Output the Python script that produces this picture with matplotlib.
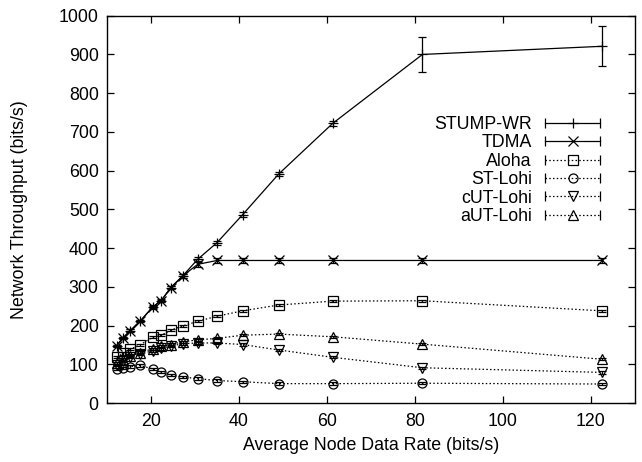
import matplotlib
matplotlib.use('agg')
import matplotlib.pyplot as plt
from matplotlib.lines import Line2D
from matplotlib.legend_handler import HandlerLine2D, HandlerTuple

plt.rcParams['font.family'] = ['Liberation Sans', 'DejaVu Sans']

# средняя скорость данных узла (bits/s)
rate = [12.2, 13.6, 15.3, 17.5, 20.4, 22.3, 24.5, 27.2, 30.6, 35.0, 40.8, 49.0, 61.3, 81.7, 122.5]

stump = [148, 168, 187, 211, 248, 264, 298, 328, 371, 414, 486, 591, 722, 900, 921]
stump_err = [3, 3, 3, 3, 4, 4, 4, 5, 5, 5, 6, 6, 7, 45, 52]
tdma = [148, 168, 187, 211, 248, 264, 298, 328, 358, 368, 368, 368, 368, 368, 368]
tdma_err = [3, 3, 3, 3, 3, 3, 3, 4, 6, 7, 7, 7, 7, 7, 7]
aloha = [118, 128, 139, 150, 170, 175, 188, 199, 211, 224, 238, 253, 263, 264, 238]
st_lohi = [88, 91, 94, 97, 88, 80, 72, 67, 63, 58, 55, 50, 50, 51, 49]
cut_lohi = [98, 108, 118, 126, 135, 141, 147, 153, 155, 155, 151, 137, 118, 91, 79]
aut_lohi = [102, 112, 122, 130, 140, 146, 151, 158, 163, 167, 175, 178, 171, 152, 113]
small_err = [3] * len(rate)

names = ['STUMP-WR', 'TDMA', 'Aloha', 'ST-Lohi', 'cUT-Lohi', 'aUT-Lohi']

FS = 12.8

fig = plt.figure(figsize=(6.42, 4.62), dpi=100)
ax = fig.add_axes([0.1667, 0.1277, 0.8223, 0.8383])

dot = (0, (1.2, 1.8))
series = [
    (stump, stump_err, '+', '-'),
    (tdma, tdma_err, 'x', '-'),
    (aloha, small_err, 's', dot),
    (st_lohi, small_err, 'o', dot),
    (cut_lohi, small_err, 'v', dot),
    (aut_lohi, small_err, '^', dot),
]

handles = []
hmap = {tuple: HandlerTuple(ndivide=1)}
for (vals, err, mk, ls), name in zip(series, names):
    ms = 7 if mk in '+x' else 6.5
    ax.errorbar(rate, vals, yerr=err, color='black', lw=0.9, ls=ls,
                marker=mk, ms=ms, mfc='none', mew=0.9,
                capsize=3, elinewidth=0.9, capthick=0.9)
    # легенда в стиле gnuplot: линия с засечками на концах
    caps = Line2D([], [], color='black', lw=0.9, ls=ls, marker='|', ms=7, mew=0.9)
    mark = Line2D([], [], color='none', marker=mk, ms=ms,
                  mfc='none', mec='black', mew=0.9)
    hmap[caps] = HandlerLine2D(numpoints=2, marker_pad=0)
    handles.append((caps, mark))

ax.legend(handles, names, handler_map=hmap,
          loc='upper right', bbox_to_anchor=(0.951, 0.764), frameon=False,
          markerfirst=False, fontsize=FS, handlelength=3.1, handletextpad=0.75,
          labelspacing=0.08, borderpad=0)

ax.set_xlim(10, 130)
ax.set_ylim(0, 1000)
ax.set_xticks([20, 40, 60, 80, 100, 120])
ax.set_yticks(range(0, 1001, 100))
ax.tick_params(direction='in', length=5, width=0.9, top=True, right=True,
               labelsize=FS)
ax.tick_params(axis='x', pad=7)
ax.tick_params(axis='y', pad=6)
for s in ax.spines.values():
    s.set_linewidth(1.0)

ax.set_xlabel('Average Node Data Rate (bits/s)', fontsize=FS, labelpad=5)
ax.set_ylabel('Network Throughput (bits/s)', fontsize=FS, labelpad=22)

plt.savefig('out.png', dpi=100)
